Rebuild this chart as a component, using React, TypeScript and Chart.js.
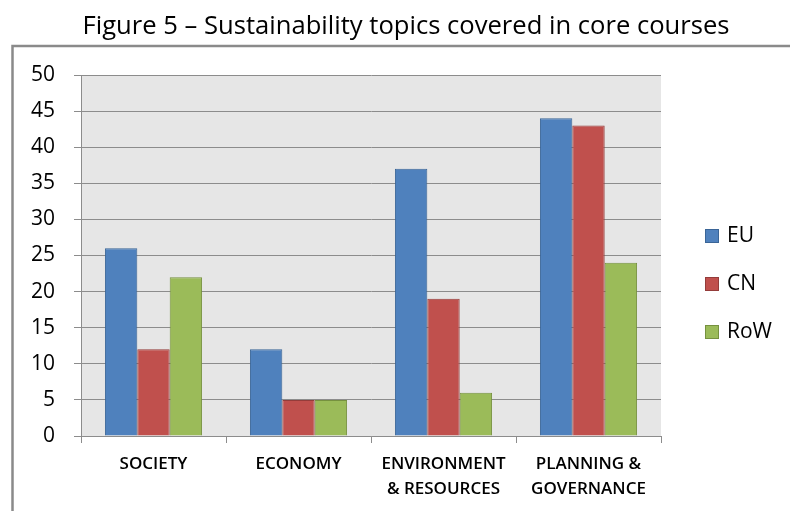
import React, { useEffect, useRef } from "react";
import { Chart, registerables } from "chart.js";

Chart.register(...registerables);

const categories: (string | string[])[] = [
  "SOCIETY",
  "ECONOMY",
  ["ENVIRONMENT", "& RESOURCES"],
  ["PLANNING &", "GOVERNANCE"],
];
const euValues = [26, 12, 37, 44];
const cnValues = [12, 5, 19, 43];
const rowValues = [22, 5, 6, 24];
const yTicks = [0, 5, 10, 15, 20, 25, 30, 35, 40, 45, 50];

const titleText = "Figure 5 \u2013 Sustainability topics covered in core courses";
const FONT = "'Open Sans', Lato, sans-serif";

const framePlugin = {
  id: "frameAndTitle",
  beforeDraw(chart: any) {
    const { ctx, chartArea } = chart;
    ctx.save();
    ctx.fillStyle = "#ffffff";
    ctx.fillRect(0, 0, chart.width, chart.height);
    // outer frame (left and top edges visible)
    ctx.strokeStyle = "#8a8a8a";
    ctx.lineWidth = 2.5;
    ctx.beginPath();
    ctx.moveTo(12.5, chart.height + 5);
    ctx.lineTo(12.5, 46);
    ctx.lineTo(chart.width + 5, 46);
    ctx.stroke();
    // title
    ctx.fillStyle = "#000000";
    ctx.font = `25.6px ${FONT}`;
    ctx.textAlign = "center";
    ctx.textBaseline = "middle";
    ctx.fillText(titleText, 406, 27);
    // plot background
    ctx.fillStyle = "#e6e6e6";
    ctx.fillRect(chartArea.left, chartArea.top, chartArea.right - chartArea.left, chartArea.bottom - chartArea.top);
    ctx.restore();
  },
  afterDraw(chart: any) {
    const { ctx } = chart;
    ctx.save();
    ctx.font = `21px ${FONT}`;
    ctx.textAlign = "left";
    ctx.textBaseline = "middle";
    chart.data.datasets.forEach((ds: any, i: number) => {
      const y = 236 + i * 48;
      ctx.fillStyle = ds.backgroundColor;
      ctx.strokeStyle = ds.borderColor;
      ctx.lineWidth = 1;
      ctx.fillRect(705, y - 7, 14, 14);
      ctx.strokeRect(705.5, y - 6.5, 13, 13);
      ctx.fillStyle = "#000000";
      ctx.fillText(ds.label, 727, y);
    });
    ctx.restore();
  },
};

export default function App() {
  const canvasRef = useRef<HTMLCanvasElement | null>(null);

  useEffect(() => {
    if (!canvasRef.current) return;
    const chart = new Chart(canvasRef.current, {
      type: "bar",
      data: {
        labels: categories,
        datasets: [
          { label: "EU", data: euValues, backgroundColor: "#4f81bd", borderColor: "#3a6597", borderWidth: 1 },
          { label: "CN", data: cnValues, backgroundColor: "#c0504d", borderColor: "#943c3a", borderWidth: 1 },
          { label: "RoW", data: rowValues, backgroundColor: "#9bbb59", borderColor: "#76913f", borderWidth: 1 },
        ],
      },
      options: {
        animation: false,
        responsive: false,
        devicePixelRatio: 1,
        layout: { padding: { left: 0, right: 129, top: 75, bottom: 0 } },
        datasets: { bar: { barPercentage: 1, categoryPercentage: 0.67 } },
        plugins: {
          legend: { display: false },
          title: { display: false },
          tooltip: { enabled: false },
        },
        scales: {
          x: {
            grid: {
              display: true,
              drawOnChartArea: false,
              drawTicks: true,
              tickLength: 7,
              color: "#8c8c8c",
              offset: true,
            },
            border: { display: true, color: "#8c8c8c", width: 1 },
            ticks: {
              color: "#000000",
              font: { family: FONT, size: 17, weight: 600, lineHeight: 1.5 },
              padding: 8,
              maxRotation: 0,
              autoSkip: false,
            },
            afterFit(scale: any) {
              scale.height = 75;
            },
          },
          y: {
            min: 0,
            max: 50,
            afterBuildTicks(scale: any) {
              scale.ticks = yTicks.map((v) => ({ value: v }));
            },
            grid: {
              color: "#8c8c8c",
              tickLength: 7,
              drawTicks: true,
            },
            border: { display: true, color: "#8c8c8c", width: 1 },
            ticks: {
              color: "#000000",
              font: { family: FONT, size: 21 },
              padding: 19,
            },
            afterFit(scale: any) {
              scale.width = 81;
            },
          },
        },
      },
      plugins: [framePlugin],
    });
    return () => chart.destroy();
  }, []);

  return (
    <div style={{ position: "absolute", left: 0, top: 0, width: 790, height: 511, overflow: "hidden" }}>
      <canvas ref={canvasRef} width={790} height={511} style={{ display: "block" }} />
    </div>
  );
}
